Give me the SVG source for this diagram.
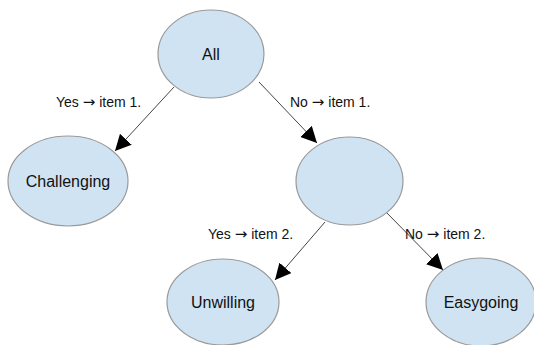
<svg xmlns="http://www.w3.org/2000/svg" width="534" height="345" viewBox="0 0 534 345">
<style>
.node ellipse{fill:#cfe3f3;stroke:#9a9a9a;stroke-width:1.2}
.node text{font-family:"Liberation Sans",Arial,sans-serif;font-size:16px;fill:#111;text-anchor:middle;dominant-baseline:central}
.edge line{stroke:#444;stroke-width:1;marker-end:url(#arr)}
.lbl{font-family:"Liberation Sans",Arial,sans-serif;font-size:14px;fill:#111}
.ar{font-family:"DejaVu Sans",sans-serif;font-size:15px}
</style>
<defs>
<marker id="arr" viewBox="0 0 10 10" refX="10" refY="5" markerWidth="16" markerHeight="16" markerUnits="userSpaceOnUse" orient="auto">
<path d="M0,0 L10,5 L0,10 z" fill="#000"/>
</marker>
</defs>
<rect width="534" height="345" fill="#fff"/>
<g id="edges" class="edge">
<line x1="174" y1="87" x2="115" y2="151"/>
<line x1="259" y1="82" x2="317" y2="143"/>
<line x1="325" y1="222" x2="275" y2="280"/>
<line x1="385" y1="211" x2="443" y2="270"/>
</g>
<g id="labels">
<text class="lbl" x="56" y="107">Yes <tspan class="ar">→</tspan> item 1.</text>
<text class="lbl" x="290" y="107">No <tspan class="ar">→</tspan> item 1.</text>
<text class="lbl" x="208" y="239">Yes <tspan class="ar">→</tspan> item 2.</text>
<text class="lbl" x="405" y="239">No <tspan class="ar">→</tspan> item 2.</text>
</g>
<g id="n-all" class="node"><ellipse cx="211" cy="54" rx="53" ry="44"/><text x="211" y="54">All</text></g>
<g id="n-challenging" class="node"><ellipse cx="68" cy="181" rx="60" ry="45"/><text x="68" y="181">Challenging</text></g>
<g id="n-mid" class="node"><ellipse cx="349.5" cy="181" rx="53.5" ry="44"/></g>
<g id="n-unwilling" class="node"><ellipse cx="223" cy="302" rx="56" ry="43"/><text x="223" y="302">Unwilling</text></g>
<g id="n-easygoing" class="node"><ellipse cx="481" cy="302" rx="55" ry="44"/><text x="481" y="302">Easygoing</text></g>
</svg>
